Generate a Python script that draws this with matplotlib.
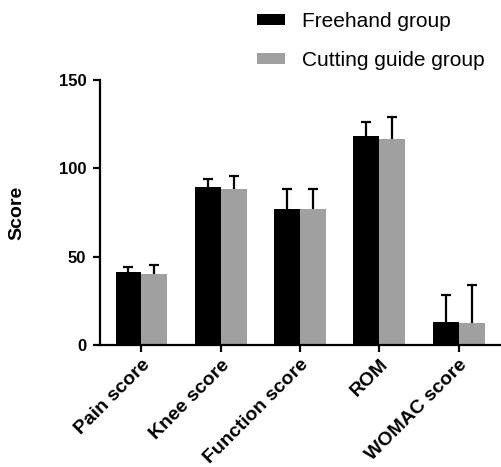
import matplotlib.pyplot as plt
import numpy as np

plt.rcParams['font.family'] = ['Liberation Sans', 'DejaVu Sans']

categories = ['Pain score', 'Knee score', 'Function score', 'ROM', 'WOMAC score']
freehand = [41.1, 89.6, 77.1, 118.3, 12.8]
freehand_sd = [3.2, 4.2, 11.4, 7.9, 15.7]
guide = [40.2, 88.5, 76.8, 116.6, 12.5]
guide_sd = [5.2, 7.1, 11.3, 12.4, 21.3]

fig = plt.figure(figsize=(5.01, 4.67), dpi=100)
ax = fig.add_axes([0.2, 0.261, 0.798, 0.568])

x = np.arange(len(categories))
w = 0.327
cap = 0.063


def bars(pos, vals, sds, color, label):
    ax.bar(pos, vals, w, color=color, label=label, zorder=2)
    tops = np.array(vals) + np.array(sds)
    # only the upper half of the error bar, as in the original
    ax.vlines(pos, vals, tops, color='black', lw=1.6, zorder=1)
    ax.hlines(tops, pos - cap, pos + cap, color='black', lw=1.6, zorder=1)


bars(x - w / 2, freehand, freehand_sd, 'black', 'Freehand group')
bars(x + w / 2, guide, guide_sd, '#a0a0a0', 'Cutting guide group')

ax.set_xlim(-0.52, 4.52)
ax.set_ylim(0, 150)
ax.set_yticks([0, 50, 100, 150])
ax.set_xticks(x)
ax.set_xticklabels(categories, rotation=45, ha='right', rotation_mode='anchor',
                   fontsize=14, fontweight='bold')
for lab in ax.get_yticklabels():
    lab.set_fontsize(12)
    lab.set_fontweight('bold')
ax.set_ylabel('Score', fontsize=14, fontweight='bold', labelpad=24)

for s in ['top', 'right']:
    ax.spines[s].set_visible(False)
for s in ['left', 'bottom']:
    ax.spines[s].set_linewidth(1.6)
ax.tick_params(direction='out', length=5, width=1.6)
ax.tick_params(axis='y', pad=5)
ax.tick_params(axis='x', pad=3)

fig.legend(loc='upper left', bbox_to_anchor=(257 / 501, 1 - 12 / 467), frameon=False,
           fontsize=15, handlelength=1.35, handleheight=0.43, labelspacing=0.95,
           handletextpad=0.8, borderaxespad=0, borderpad=0)

fig.savefig('out.png', dpi=100)
